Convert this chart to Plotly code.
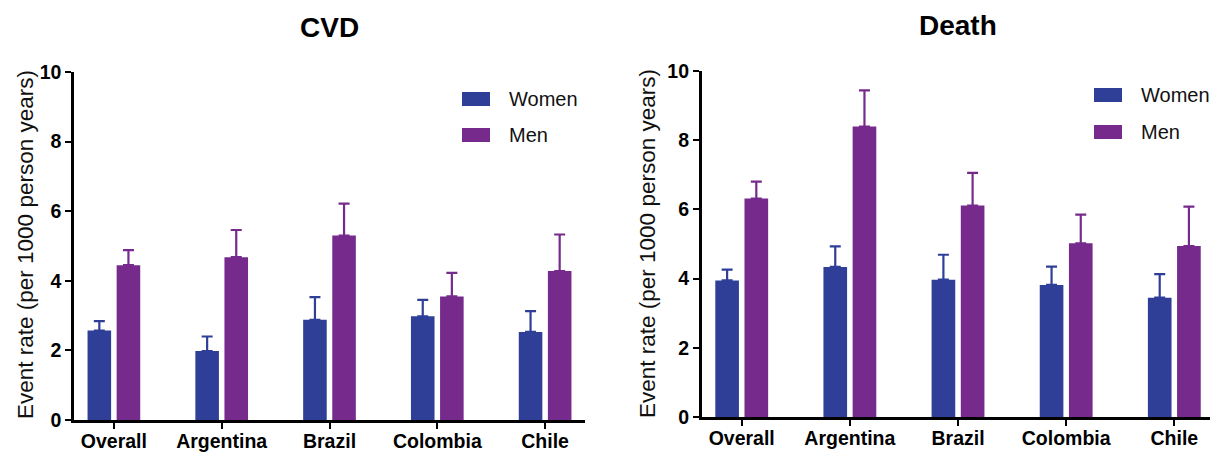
import plotly.graph_objects as go

categories = ["Overall", "Argentina", "Brazil", "Colombia", "Chile"]
series_names = ["Women", "Men"]

cvd_women = [2.57, 1.98, 2.88, 2.98, 2.53]
cvd_women_err = [0.27, 0.42, 0.65, 0.47, 0.60]
cvd_men = [4.45, 4.68, 5.30, 3.55, 4.28]
cvd_men_err = [0.43, 0.78, 0.92, 0.68, 1.05]

death_women = [3.95, 4.34, 3.97, 3.82, 3.45]
death_women_err = [0.31, 0.59, 0.72, 0.53, 0.68]
death_men = [6.31, 8.39, 6.11, 5.02, 4.94]
death_men_err = [0.49, 1.04, 0.94, 0.83, 1.14]

y_ticks = [0, 2, 4, 6, 8, 10]
panel_titles = ["CVD", "Death"]
y_title = "Event rate (per 1000 person years)"

W, H = 1210, 452
PAGE_OFF = 0  # body margin removed by post_script below
WOMEN_C = "#2F3F98"
MEN_C = "#752A8C"
FONT = "Liberation Sans, Arial, Helvetica, sans-serif"

def px_x(v):
    return (v - PAGE_OFF) / W

def px_y(v):
    return 1 - (v - PAGE_OFF) / H

fig = go.Figure()

panels = [
    (cvd_women, cvd_women_err, cvd_men, cvd_men_err, "x", "y"),
    (death_women, death_women_err, death_men, death_men_err, "x2", "y2"),
]
for wv, we, mv, me, xa, ya in panels:
    for name, vals, errs, col in [("Women", wv, we, WOMEN_C), ("Men", mv, me, MEN_C)]:
        fig.add_trace(go.Bar(
            x=categories, y=vals, name=name, xaxis=xa, yaxis=ya,
            marker=dict(color=col, line=dict(width=0)),
            showlegend=False,
            error_y=dict(type="data", symmetric=False, array=errs,
                         arrayminus=[0] * len(errs), color=col,
                         thickness=2.2, width=5.5),
        ))

axis_common = dict(showline=True, linecolor="black", linewidth=2.5,
                   ticks="outside", ticklen=6, tickwidth=2, tickcolor="black",
                   showgrid=False, zeroline=False, automargin=False)
xfont = dict(size=19.5, family=FONT, weight="bold", color="black")
yfont = dict(size=19.5, family=FONT, weight="bold", color="black")

fig.update_layout(
    width=W, height=H,
    margin=dict(l=0, r=0, t=0, b=0, autoexpand=False),
    paper_bgcolor="white", plot_bgcolor="white",
    barmode="group", bargap=0.46, bargroupgap=0.19,
    font=dict(family=FONT, color="black"),
    xaxis=dict(domain=[px_x(74), px_x(585)], range=[-0.37, 4.37], anchor="y",
               type="category", tickfont=xfont, ticklabelstandoff=-4,
               **axis_common),
    yaxis=dict(domain=[px_y(420), px_y(72)], range=[0, 10], anchor="x",
               tickvals=y_ticks, tickfont=yfont,
               **axis_common),
    xaxis2=dict(domain=[px_x(701.7), 1.0], range=[-0.37, 4.33], anchor="y2",
                type="category", tickfont=xfont, ticklabelstandoff=-4,
                **axis_common),
    yaxis2=dict(domain=[px_y(417.3), px_y(70.7)], range=[0, 10], anchor="x2",
                tickvals=y_ticks, tickfont=yfont,
                **axis_common),
)

annotations = []
# panel titles
for title, cx, cy in [(panel_titles[0], 329, 28), (panel_titles[1], 958, 26)]:
    annotations.append(dict(text=f"<b>{title}</b>", x=px_x(cx), y=px_y(cy),
                            xref="paper", yref="paper", xanchor="center", yanchor="middle",
                            showarrow=False, font=dict(size=28, family=FONT, color="black")))
# y axis titles
for cx, cy in [(25, 245), (647, 243)]:
    annotations.append(dict(text=y_title, x=px_x(cx), y=px_y(cy), textangle=-90,
                            xref="paper", yref="paper", xanchor="center", yanchor="middle",
                            showarrow=False, font=dict(size=22.5, family=FONT, color="#111")))

shapes = []
# legends
legend_specs = [
    (462, 507, [99, 135]),
    (1094, 1139, [95, 132]),
]
for bx, tx, ys in legend_specs:
    for name, col, yc in zip(series_names, [WOMEN_C, MEN_C], ys):
        shapes.append(dict(type="rect", xref="paper", yref="paper",
                           x0=px_x(bx), x1=px_x(bx + 28), y0=px_y(yc + 7), y1=px_y(yc - 7),
                           fillcolor=col, line=dict(width=0)))
        annotations.append(dict(text=name, x=px_x(tx), y=px_y(yc), xref="paper", yref="paper",
                                xanchor="left", yanchor="middle", showarrow=False,
                                font=dict(size=20, family=FONT, color="#111")))

fig.update_layout(annotations=annotations, shapes=shapes)
fig.write_html(
    "out.html",
    config={"displayModeBar": False},
    post_script="document.body.style.margin='0';document.body.style.overflow='hidden';",
)
